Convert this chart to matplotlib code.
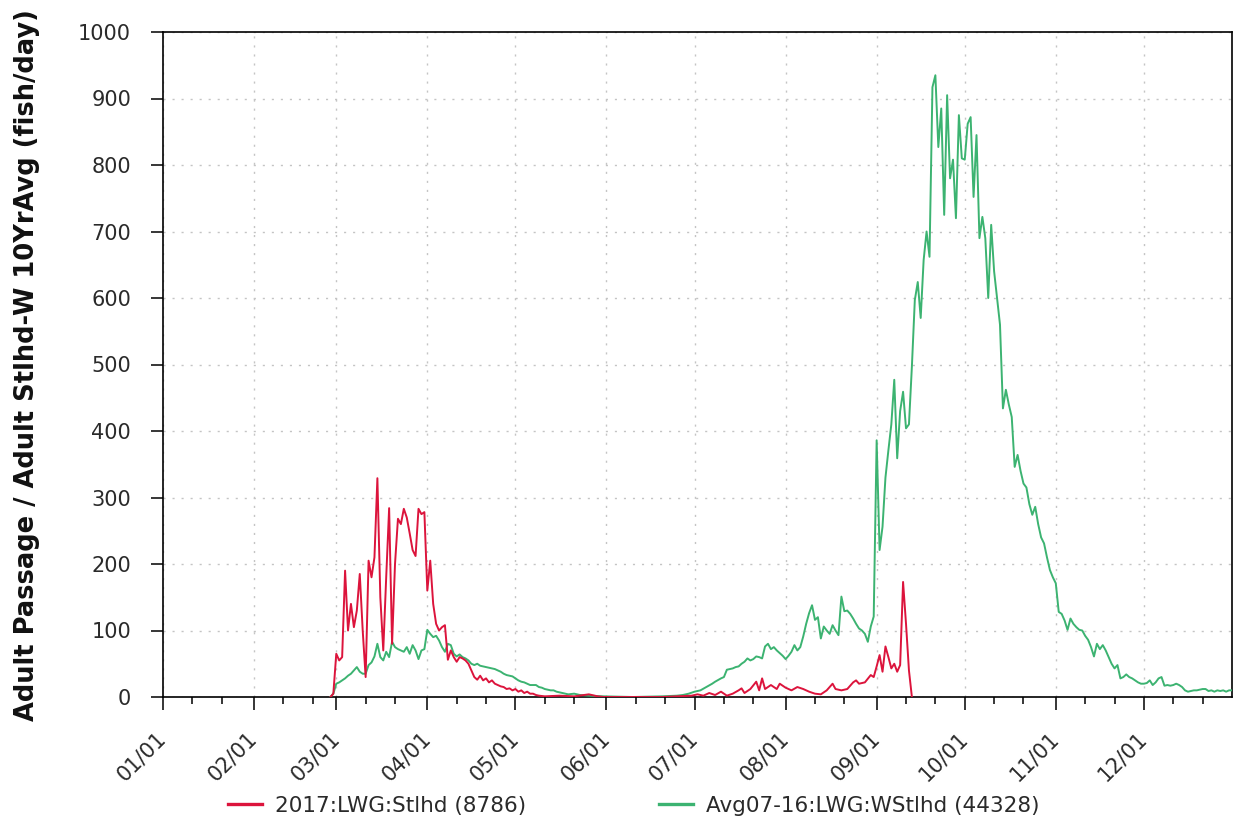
import numpy as np
import matplotlib
matplotlib.use("Agg")
import matplotlib.pyplot as plt
import matplotlib.dates as mdates
from matplotlib.lines import Line2D
from matplotlib.transforms import ScaledTranslation

# ---------------- data (day-of-year index, 0 = Jan 1, 2017) ----------------
red_days = [57, 58, 59, 60, 61, 62, 63, 64, 65, 66, 67, 68, 69, 70, 71, 72, 73, 74, 75, 76,
            77, 78, 79, 80, 81, 82, 83, 84, 85, 86, 87, 88, 89, 90, 91, 92, 93, 94, 95, 96,
            97, 98, 99, 100, 101, 102, 103, 104, 105, 106, 107, 108, 109, 110, 111, 112, 113,
            114, 115, 116, 117, 118, 119, 120, 121, 122, 123, 124, 125, 126, 127, 128, 130,
            135, 140, 145, 148, 150, 160, 170, 180, 182, 184, 186, 188, 190, 192, 194, 196,
            197, 198, 200, 202, 203, 204, 205, 206, 207, 209, 210, 212, 214, 216, 218, 220,
            222, 224, 226, 228, 229, 231, 233, 235, 236, 237, 239, 241, 242, 243, 244, 245,
            246, 247, 248, 249, 250, 251, 252, 253, 254, 255]
red_vals = [0, 5, 65, 55, 60, 190, 100, 140, 105, 130, 185, 100, 30, 205, 180, 210, 329, 150, 70, 180,
            284, 80, 200, 268, 260, 283, 270, 246, 221, 212, 283, 275, 278, 160, 205, 140, 110, 100, 105, 108,
            56, 70, 60, 53, 60, 58, 55, 50, 40, 30, 26, 32, 25, 28, 22, 25, 20,
            18, 16, 15, 12, 13, 10, 12, 8, 10, 6, 8, 5, 5, 3, 2, 1,
            2, 1, 4, 1, 0, 0, 0, 2, 4, 2, 6, 3, 8, 2, 5, 10,
            13, 6, 12, 23, 10, 28, 12, 15, 18, 12, 20, 14, 10, 15, 12, 8,
            5, 4, 10, 20, 12, 10, 12, 22, 25, 20, 22, 33, 30, 46, 63, 38,
            76, 60, 43, 50, 38, 48, 173, 110, 40, 0]

green_days = list(range(57, 135)) + [136, 138, 140, 142, 145, 150, 160, 170, 175, 177, 179, 181, 183,
                                     185, 187, 188] + list(range(190, 365))
green_vals = [0, 5, 20, 22, 25, 28, 32, 35, 40, 45, 38, 35, 35, 48, 52, 61, 80, 60, 55, 68,
              60, 83, 75, 72, 70, 68, 75, 65, 78, 70, 57, 70, 72, 101, 95, 90, 92, 85, 75, 68,
              80, 78, 65, 61, 64, 60, 58, 55, 50, 48, 50, 47, 46, 45, 44, 43, 42, 40, 38, 35,
              33, 32, 31, 28, 25, 23, 22, 20, 18, 18, 18, 15, 14, 12, 11, 10, 10, 8,
              6, 4, 5, 3, 2, 1, 0, 1, 2, 3, 5, 8, 10, 15, 20, 23,
              28, 30, 41, 42, 43, 45, 46, 50, 53, 58, 55, 57, 61, 60, 58, 76, 80, 72, 75, 70,
              66, 62, 57, 62, 68, 78, 70, 75, 91, 110, 126, 138, 116, 120, 88, 106, 100, 95, 108, 100,
              93, 151, 129, 130, 125, 118, 110, 103, 100, 95, 83, 106, 121, 386, 221, 256, 330, 371, 410, 477,
              359, 430, 459, 404, 410, 497, 597, 624, 570, 657, 700, 662, 917, 935, 827, 885, 725, 905, 780, 808,
              720, 875, 810, 808, 862, 872, 752, 845, 690, 722, 690, 600, 710, 640, 600, 560, 434, 462, 440, 421,
              346, 364, 340, 321, 315, 290, 274, 286, 260, 240, 231, 210, 191, 180, 171, 128, 125, 115, 101, 118,
              110, 105, 101, 100, 92, 86, 75, 61, 80, 72, 78, 70, 60, 50, 43, 48, 28, 30, 34, 30,
              28, 25, 22, 20, 20, 21, 25, 18, 22, 28, 30, 17, 18, 17, 18, 20, 18, 15, 10, 8,
              9, 10, 10, 11, 12, 12, 9, 10, 8, 10, 9, 10, 8, 10, 10]

y_ticks = [0, 100, 200, 300, 400, 500, 600, 700, 800, 900, 1000]
red_label = "2017:LWG:Stlhd (8786)"
green_label = "Avg07-16:LWG:WStlhd (44328)"
y_title = "Adult Passage / Adult Stlhd-W 10YrAvg (fish/day)"

RED = "#DC143C"
GREEN = "#3CB371"

base = np.datetime64("2017-01-01")
red_x = base + np.array(red_days, dtype="timedelta64[D]")
green_x = base + np.array(green_days, dtype="timedelta64[D]")

plt.rcParams["font.family"] = ["DejaVu Sans"]

fig = plt.figure(figsize=(12.36, 8.25), dpi=100)
ax = fig.add_axes([163 / 1236, 1 - 697 / 825, (1232 - 163) / 1236, (697 - 32) / 825])

ax.plot(green_x, green_vals, color=GREEN, lw=1.4, zorder=3)
ax.plot(red_x, red_vals, color=RED, lw=1.4, zorder=4)

ax.set_xlim(np.datetime64("2017-01-01"), np.datetime64("2017-12-31"))
ax.set_ylim(0, 1000)
ax.set_yticks(y_ticks)

ax.xaxis.set_major_locator(mdates.MonthLocator())
ax.xaxis.set_major_formatter(mdates.DateFormatter("%m/%d"))
ax.xaxis.set_minor_locator(mdates.DayLocator(bymonthday=[11, 21]))

ax.grid(True, which="major", color="#c4c4c4", linestyle=(0, (1.5, 5)), lw=1.0)

for s in ax.spines.values():
    s.set_color("black")
    s.set_linewidth(1.2)

ax.tick_params(axis="y", length=9, width=1.1, pad=14, labelsize=15, labelcolor="#2a2a2a")
ax.tick_params(axis="x", which="major", length=9.5, width=1.1, pad=18, labelsize=15, labelcolor="#2a2a2a")
ax.tick_params(axis="x", which="minor", length=5, width=1.1)

for lab in ax.get_xticklabels():
    lab.set_rotation(45)
    lab.set_ha("right")
    lab.set_va("center")
    lab.set_rotation_mode("anchor")
    lab.set_transform(lab.get_transform() + ScaledTranslation(0 / 100, 0, fig.dpi_scale_trans))

fig.text(27 / 1236, 1 - 365 / 825, y_title, rotation=90, ha="center", va="center",
         fontsize=18.5, fontweight="bold", color="#111111")

h1 = Line2D([], [], color=RED, lw=2.4)
h2 = Line2D([], [], color=GREEN, lw=2.4)
leg1 = fig.legend(handles=[h1], labels=[red_label], loc="center left",
                  bbox_to_anchor=(228 / 1236, 1 - 806 / 825), frameon=False, fontsize=15.5,
                  handlelength=1.6, handletextpad=0.6, borderpad=0, borderaxespad=0)
leg2 = fig.legend(handles=[h2], labels=[green_label], loc="center left",
                  bbox_to_anchor=(659 / 1236, 1 - 806 / 825), frameon=False, fontsize=15.5,
                  handlelength=1.6, handletextpad=0.6, borderpad=0, borderaxespad=0)
for leg in (leg1, leg2):
    for t in leg.get_texts():
        t.set_color("#2a2a2a")

fig.savefig("out.png", dpi=100)
